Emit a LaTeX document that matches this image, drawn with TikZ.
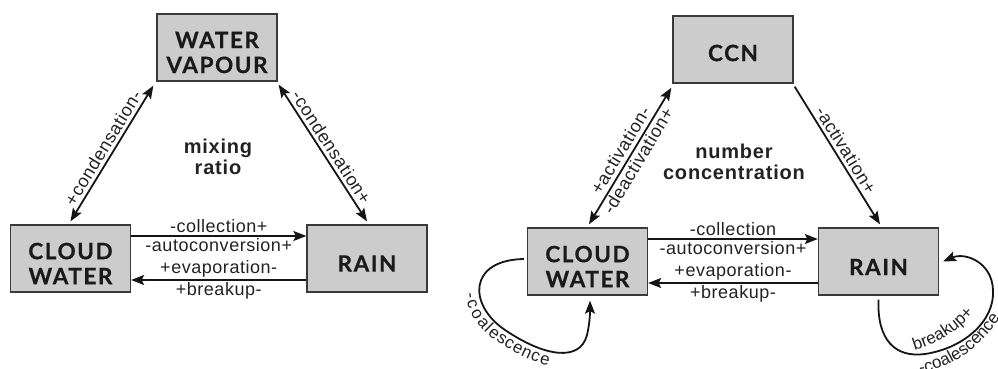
\documentclass[tikz,border=0pt]{standalone}
\usepackage{fontspec}
\setmainfont{Liberation Sans}
\newfontfamily\boxfont{Lato}[LetterSpace=7,FakeBold=0.6]
\newfontfamily\lblfont{Liberation Sans}[LetterSpace=3]
\newfontfamily\ttlfont{Liberation Sans}[LetterSpace=4]
\usetikzlibrary{arrows.meta,decorations.text,calc}
\definecolor{boxfill}{HTML}{CCCCCC}
\definecolor{boxline}{HTML}{3A3A3A}
\definecolor{linec}{HTML}{151515}
\definecolor{txtc}{HTML}{1A1A1A}
\definecolor{lblc}{HTML}{222222}
\newcommand\lblsize{\lblfont\fontsize{18}{20}\selectfont}
\newcommand\loopsize{\lblfont\fontsize{17}{19}\selectfont}
\tikzset{
  box/.style={draw=boxline, fill=boxfill, line width=1.3pt, minimum width=120pt, minimum height=67pt, inner sep=0pt},
  boxtxt/.style={font=\boxfont\bfseries\fontsize{22.5}{25}\selectfont, align=center, text=txtc, inner sep=0pt},
  ttl/.style={font=\ttlfont\bfseries\fontsize{20}{21.5}\selectfont, align=center, text=lblc, inner sep=0pt},
  tip/.tip={Stealth[length=13pt,width=10pt,inset=2.5pt]},
  flow/.style={line width=1.8pt, draw=linec, -tip},
  biflow/.style={line width=1.8pt, draw=linec, tip-tip},
  lbl/.style={font=\lblsize, text=lblc, inner sep=2pt},
  slbl/.style={lbl, sloped, inner sep=3pt},
}
\begin{document}
\begin{tikzpicture}[x=1pt,y=-1pt]
\useasboundingbox (0,0) rectangle (998,369);
% ---------- left diagram ----------
\node[box] (wv) at (217,47.5) {};
\node[boxtxt] (wvt) at ([yshift=-5pt]wv.center) {WATER\\VAPOUR};
\node[box] (cwl) at (70.5,258.5) {};
\node[boxtxt] (cwlt) at ([yshift=-5pt]cwl.center) {CLOUD\\WATER};
\node[box] (rainl) at (367,258.5) {};
\node[boxtxt] (rainlt) at ([yshift=-5pt]rainl.center) {RAIN};
\node[ttl] (mix) at (218,157) {mixing\\ratio};

\draw[biflow] ([yshift=3pt]cwl.north) -- ([xshift=-3pt,yshift=-4pt]wv.south west)
  node[slbl, midway, above] (lc1) {+condensation-};
\draw[biflow] ([xshift=1pt,yshift=-3pt]wv.south east) -- ([yshift=3pt]rainl.north)
  node[slbl, midway, above] (lc2) {-condensation+};
\draw[flow] ([yshift=22.5pt]cwl.east) -- ([yshift=22.5pt]rainl.west)
  node[lbl, midway, above] (lcol) {-collection+}
  node[lbl, midway, below] (laut) {-autoconversion+};
\draw[flow] ([yshift=-21.5pt]rainl.west) -- ([yshift=-21.5pt]cwl.east)
  node[lbl, midway, above] (levap) {+evaporation-}
  node[lbl, midway, below] (lbrk) {+breakup-};

% ---------- right diagram ----------
\node[box] (ccn) at (733,49.5) {};
\node[boxtxt] (ccnt) at ([yshift=-3.5pt]ccn.center) {CCN};
\node[box] (cwr) at (587.5,261.5) {};
\node[boxtxt] (cwrt) at ([yshift=-5pt]cwr.center) {CLOUD\\WATER};
\node[box] (rainr) at (878.5,261.5) {};
\node[boxtxt] (rainrt) at ([yshift=-5.5pt]rainr.center) {RAIN};
\node[ttl] (num) at (734,162) {number\\concentration};

\draw[biflow] ([xshift=1.5pt,yshift=3pt]cwr.north) -- ([xshift=-1pt,yshift=-4pt]ccn.south west)
  node[slbl, midway, above, inner sep=4pt] (ra1) {+activation-}
  node[slbl, midway, below, inner sep=1.5pt] (ra2) {-deactivation+};
\draw[flow] ([xshift=1pt,yshift=-3pt]ccn.south east) -- ([xshift=1.5pt,yshift=3pt]rainr.north)
  node[slbl, midway, above] (ra3) {-activation+};
\draw[flow] ([yshift=22.5pt]cwr.east) -- ([yshift=22.5pt]rainr.west)
  node[lbl, midway, above] (rcol) {-collection}
  node[lbl, midway, below] (raut) {-autoconversion+};
\draw[flow] ([yshift=-21.5pt]rainr.west) -- ([yshift=-21.5pt]cwr.east)
  node[lbl, midway, above] (revap) {+evaporation-}
  node[lbl, midway, below] (rbrk) {+breakup-};

% cloud water self loop
\draw[flow] ([xshift=-3pt,yshift=2.5pt]cwr.west) .. controls (468,260) and (468,305) .. (505,330)
  .. controls (545,357) and (580,362) .. (587,335)
  .. controls (590,322) and (590,312) .. ([xshift=2.5pt,yshift=-5pt]cwr.south);
\path[decorate, decoration={text along path, raise=-14pt, text align={left indent=62pt},
  text={|\loopsize\color{lblc}|-coalescence}}]
  ([xshift=-3pt,yshift=2.5pt]cwr.west) .. controls (468,260) and (468,305) .. (505,330)
  .. controls (545,357) and (580,362) .. (587,335)
  .. controls (590,322) and (590,312) .. ([xshift=2.5pt,yshift=-5pt]cwr.south);

% rain self loop
\draw[flow] ([yshift=-4pt]rainr.south) .. controls (877,340) and (895,358) .. (925,354)
  .. controls (965,348) and (995,320) .. (993,290)
  .. controls (992,262) and (965,252) .. ([xshift=4pt]rainr.east);
\path[decorate, decoration={text along path, text align=center,
  text={|\loopsize\color{lblc}|breakup+}}]
  (905,353) .. controls (935,346) and (960,332) .. (980,305);
\path[decorate, decoration={text along path, text align={left indent=0pt},
  text={|\loopsize\color{lblc}|-coalescence}}]
  (920,373) .. controls (952,368) and (985,348) .. (1012,298);
\end{tikzpicture}
\end{document}
